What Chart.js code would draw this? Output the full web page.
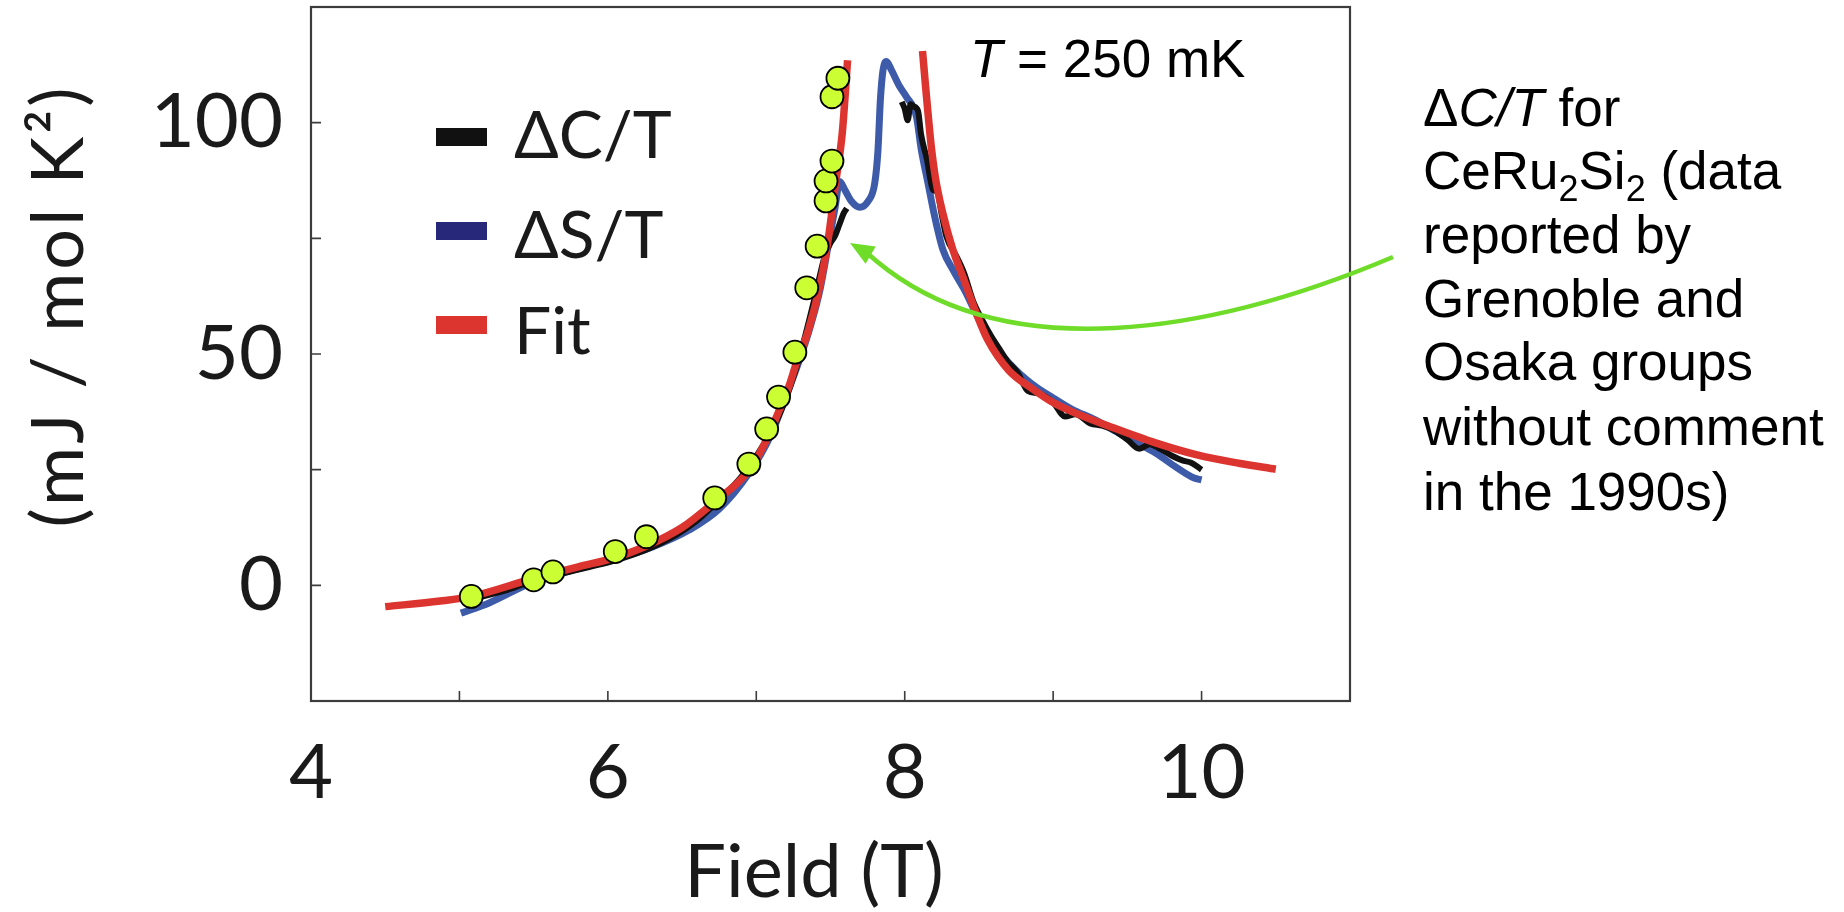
<!DOCTYPE html>
<html>
<head>
<meta charset="utf-8">
<title>CeRu2Si2 field scan</title>
<script src="https://cdn.jsdelivr.net/npm/chart.js@4.4.1/dist/chart.umd.min.js"></script>
<style>
    html, body { margin: 0; padding: 0; background: #fff; }
    #wrap { position: relative; width: 1844px; height: 912px; }
</style>
</head>
<body>
<div id="wrap"><canvas id="fieldChart"></canvas></div>
<script>
// Fit curve, below and above the metamagnetic field
const fitLowField  = [4.50, 4.87, 5.08, 5.50, 5.80, 6.05, 6.26, 6.50, 6.71, 6.95, 7.07, 7.15, 7.22, 7.27, 7.35, 7.43, 7.49, 7.53, 7.58, 7.615];
const fitLowValue  = [-4.6, -3.4, -2.4, 1.5, 4.0, 6.0, 8.5, 12.5, 17.8, 24.8, 31.5, 37.5, 43, 48, 55, 65, 76, 86, 98, 113.5];
const fitHighField = [8.12, 8.14, 8.16, 8.18, 8.21, 8.26, 8.32, 8.40, 8.48, 8.56, 8.70, 8.86, 9.00, 9.13, 9.41, 9.69, 9.97, 10.25, 10.50];
const fitHighValue = [115.5, 108, 101, 94.5, 87.5, 80, 73, 66, 59, 53, 46.5, 42.5, 39.5, 37.5, 34, 30.8, 28.2, 26.4, 25.1];

// Delta S / T
const entropyField = [5.01, 5.20, 5.50, 5.80, 6.05, 6.30, 6.55, 6.75, 6.95, 7.10, 7.20, 7.29, 7.36, 7.43, 7.49, 7.53, 7.562, 7.596, 7.641, 7.697, 7.753, 7.798, 7.82, 7.836, 7.854, 7.877, 7.91, 7.966, 8.011, 8.079, 8.112, 8.157, 8.202, 8.258, 8.325, 8.40, 8.50, 8.60, 8.75, 8.90, 9.00, 9.13, 9.27, 9.41, 9.55, 9.69, 9.83, 9.95, 10.0];
const entropyValue = [-6.0, -3.8, 0.8, 3.6, 5.7, 8.3, 12.0, 16.5, 24.2, 32.6, 40.8, 48.6, 55.5, 64, 74.5, 81.5, 87.3, 85.5, 83.0, 81.7, 83.0, 86.9, 94.1, 104.9, 111.4, 113.2, 111.4, 107.8, 105.6, 101.3, 94.1, 86.9, 79.7, 72.5, 68.2, 64, 57.5, 52, 46.5, 42.5, 40.5, 38.0, 36.0, 33.5, 31, 28.6, 25.5, 23.2, 22.8];

// Delta C / T, two measured stretches
const heatLowField  = [5.12, 5.30, 5.50, 5.70, 5.88, 6.05, 6.25, 6.40, 6.60, 6.75, 6.90, 7.05, 7.15, 7.25, 7.33, 7.40, 7.46, 7.50, 7.53, 7.56, 7.59, 7.61];
const heatLowValue  = [-2.7, -1.2, 1.0, 2.6, 4.0, 5.4, 7.6, 9.8, 14.0, 18.5, 23.5, 30.5, 36.5, 45, 54, 63, 71, 74, 75.5, 78, 80.5, 81.5];
const heatHighField = [7.98, 8.00, 8.02, 8.04, 8.06, 8.09, 8.11, 8.15, 8.19, 8.22, 8.25, 8.28, 8.35, 8.40, 8.46, 8.52, 8.58, 8.64, 8.69, 8.76, 8.83, 8.90, 9.00, 9.08, 9.15, 9.25, 9.33, 9.41, 9.50, 9.58, 9.65, 9.72, 9.80, 9.87, 9.93, 10.00];
const heatHighValue = [104.5, 103, 100.5, 104, 103.5, 102.5, 97.5, 92, 85.5, 85, 80, 75.5, 71, 67.5, 61.5, 57.5, 54, 51, 48.5, 46, 42, 41.5, 39.5, 36.5, 37, 35, 34.5, 33.5, 31.5, 29.5, 30.5, 29.5, 28, 27, 26.5, 25];

// Green markers
const markerField = [5.08, 5.50, 5.63, 6.05, 6.26, 6.72, 6.95, 7.07, 7.15, 7.26, 7.34, 7.41, 7.47, 7.47, 7.51, 7.51, 7.55];
const markerValue = [-2.4, 1.2, 2.9, 7.3, 10.5, 18.9, 26.2, 33.8, 40.7, 50.4, 64.3, 73.3, 83.1, 87.4, 91.7, 105.6, 109.6];

const xTickLabels = [4, 6, 8, 10];
const yTickLabels = [0, 50, 100];
const legendLabels = ['\u0394C/T', '\u0394S/T', 'Fit'];

const RED = '#DC3530';
const BLUE = '#3D5BA9';
const NAVY = '#27287A';
const BLACK = '#111111';
const GREEN = '#6EDC28';
const FRAME = '#3c3c3c';
const FIG_FONT = 'Lato, "Liberation Sans", sans-serif';
const NOTE_FONT = '"Liberation Sans", Arial, sans-serif';

function toPoints(xs, ys) {
    return xs.map((x, i) => ({ x: x, y: ys[i] }));
}

// draw a run of differently styled pieces along one baseline (left aligned)
function drawRuns(ctx, runs, x, y) {
    let cx = x;
    ctx.textAlign = 'left';
    runs.forEach(r => {
        ctx.font = r.font;
        ctx.fillText(r.text, cx, y + (r.dy || 0));
        cx += ctx.measureText(r.text).width;
    });
}

const framePlugin = {
    id: 'frame',
    beforeDatasetsDraw(chart) {
        const { ctx, chartArea: a, scales } = chart;
        ctx.save();
        ctx.strokeStyle = FRAME;
        ctx.lineWidth = 2.2;
        ctx.strokeRect(a.left, a.top, a.right - a.left, a.bottom - a.top);

        // inward tick marks
        ctx.lineWidth = 1.6;
        ctx.beginPath();
        scales.x.ticks.forEach(t => {
            if (t.value <= scales.x.min || t.value >= scales.x.max) return;
            const px = scales.x.getPixelForValue(t.value);
            ctx.moveTo(px, a.bottom);
            ctx.lineTo(px, a.bottom - 10);
        });
        scales.y.ticks.forEach(t => {
            if (t.value <= scales.y.min || t.value >= scales.y.max) return;
            const py = scales.y.getPixelForValue(t.value);
            ctx.moveTo(a.left, py);
            ctx.lineTo(a.left + 10, py);
        });
        ctx.stroke();
        ctx.restore();
    },
    afterDraw(chart) {
        const { ctx } = chart;
        ctx.save();
        ctx.fillStyle = '#1a1a1a';
        ctx.textBaseline = 'alphabetic';

        // axis titles
        ctx.font = '74px ' + FIG_FONT;
        ctx.textAlign = 'center';
        ctx.fillText('Field (T)', 814, 897);

        ctx.save();
        ctx.translate(60, 306);
        ctx.rotate(-Math.PI / 2);
        ctx.textAlign = 'center';
        ctx.textBaseline = 'middle';
        ctx.letterSpacing = '3px';
        ctx.font = '72px ' + FIG_FONT;
        ctx.fillText('(mJ / mol K\u00B2)', 0, 0);
        ctx.restore();

        // legend
        const colors = [BLACK, NAVY, RED];
        const rectTops = [128, 222, 316];
        const baselines = [158, 258, 354];
        ctx.textAlign = 'left';
        legendLabels.forEach((label, i) => {
            ctx.fillStyle = colors[i];
            ctx.fillRect(436, rectTops[i], 51, 18);
            ctx.fillStyle = '#1a1a1a';
            ctx.font = '66px ' + FIG_FONT;
            ctx.fillText(label, 514, baselines[i]);
        });

        // temperature label
        ctx.fillStyle = '#000';
        drawRuns(ctx, [
            { text: 'T', font: 'italic 53px ' + NOTE_FONT },
            { text: ' = 250 mK', font: '53px ' + NOTE_FONT }
        ], 970, 77);

        // side note
        const plain = '53px ' + NOTE_FONT;
        const ital = 'italic 53px ' + NOTE_FONT;
        const sub = '36px ' + NOTE_FONT;
        const noteLines = [
            [{ text: '\u0394', font: plain }, { text: 'C/T', font: ital }, { text: ' for', font: plain }],
            [{ text: 'CeRu', font: plain }, { text: '2', font: sub, dy: 12 }, { text: 'Si', font: plain }, { text: '2', font: sub, dy: 12 }, { text: ' (data', font: plain }],
            [{ text: 'reported by', font: plain }],
            [{ text: 'Grenoble and', font: plain }],
            [{ text: 'Osaka groups', font: plain }],
            [{ text: 'without comment', font: plain }],
            [{ text: 'in the 1990s)', font: plain }]
        ];
        const noteBase = [126, 189, 253, 317, 380, 445, 510];
        noteLines.forEach((runs, i) => drawRuns(ctx, runs, 1423, noteBase[i]));

        // pointer arrow
        ctx.strokeStyle = GREEN;
        ctx.fillStyle = GREEN;
        ctx.lineWidth = 4.5;
        ctx.beginPath();
        ctx.moveTo(1393, 257);
        ctx.bezierCurveTo(1220, 330, 1000, 375, 866, 252);
        ctx.stroke();
        const ang = Math.atan2(243 - 256, 850 - 872);
        ctx.beginPath();
        ctx.moveTo(850, 243);
        ctx.lineTo(850 - 24 * Math.cos(ang) + 10 * Math.sin(ang), 243 - 24 * Math.sin(ang) - 10 * Math.cos(ang));
        ctx.lineTo(850 - 24 * Math.cos(ang) - 10 * Math.sin(ang), 243 - 24 * Math.sin(ang) + 10 * Math.cos(ang));
        ctx.closePath();
        ctx.fill();
        ctx.restore();
    }
};

document.addEventListener('DOMContentLoaded', function() {
    initializeFieldChart();
});

function initializeFieldChart() {
    const ctx = document.getElementById('fieldChart');
    if (!ctx) return;

    const fitData = toPoints(fitLowField, fitLowValue)
        .concat([{ x: 7.9, y: null }])
        .concat(toPoints(fitHighField, fitHighValue));
    const heatData = toPoints(heatLowField, heatLowValue)
        .concat([{ x: 7.8, y: null }])
        .concat(toPoints(heatHighField, heatHighValue));

    const lineStyle = {
        showLine: true,
        pointRadius: 0,
        pointHoverRadius: 0,
        cubicInterpolationMode: 'monotone',
        spanGaps: false,
        borderCapStyle: 'butt'
    };

    new Chart(ctx, {
        type: 'scatter',
        data: {
            datasets: [{
                label: 'markers',
                data: toPoints(markerField, markerValue),
                showLine: false,
                pointRadius: 11.5,
                pointHoverRadius: 11.5,
                pointBackgroundColor: '#CCFF33',
                pointBorderColor: '#000',
                pointBorderWidth: 1.8
            }, Object.assign({
                label: legendLabels[2],
                data: fitData,
                borderColor: RED,
                borderWidth: 7.5
            }, lineStyle), Object.assign({
                label: legendLabels[0],
                data: heatData,
                borderColor: BLACK,
                borderWidth: 6
            }, lineStyle), Object.assign({
                label: legendLabels[1],
                data: toPoints(entropyField, entropyValue),
                borderColor: BLUE,
                borderWidth: 7
            }, lineStyle)]
        },
        options: {
            responsive: true,
            maintainAspectRatio: false,
            animation: false,
            layout: {
                autoPadding: false,
                padding: { top: 7, right: 494, bottom: 0, left: 0 }
            },
            plugins: {
                legend: { display: false },
                tooltip: { enabled: false }
            },
            scales: {
                x: {
                    type: 'linear',
                    min: 4,
                    max: 11,
                    afterFit: function(scale) {
                        scale.height = 211;
                        scale.paddingLeft = 0;
                        scale.paddingRight = 0;
                    },
                    grid: { display: false, drawTicks: false },
                    border: { display: false },
                    ticks: {
                        stepSize: 1,
                        autoSkip: false,
                        maxRotation: 0,
                        padding: 27,
                        color: '#1a1a1a',
                        font: { family: FIG_FONT, size: 76, lineHeight: 1.2 },
                        callback: function(value) {
                            return xTickLabels.includes(value) ? String(value) : '';
                        }
                    }
                },
                y: {
                    type: 'linear',
                    min: -25,
                    max: 125,
                    afterFit: function(scale) {
                        scale.width = 311;
                        scale.paddingTop = 0;
                        scale.paddingBottom = 0;
                    },
                    grid: { display: false, drawTicks: false },
                    border: { display: false },
                    ticks: {
                        stepSize: 25,
                        autoSkip: false,
                        padding: 28,
                        color: '#1a1a1a',
                        font: { family: FIG_FONT, size: 76 },
                        callback: function(value) {
                            return yTickLabels.includes(value) ? String(value) : '';
                        }
                    }
                }
            }
        },
        plugins: [framePlugin]
    });
}
</script>
</body>
</html>
